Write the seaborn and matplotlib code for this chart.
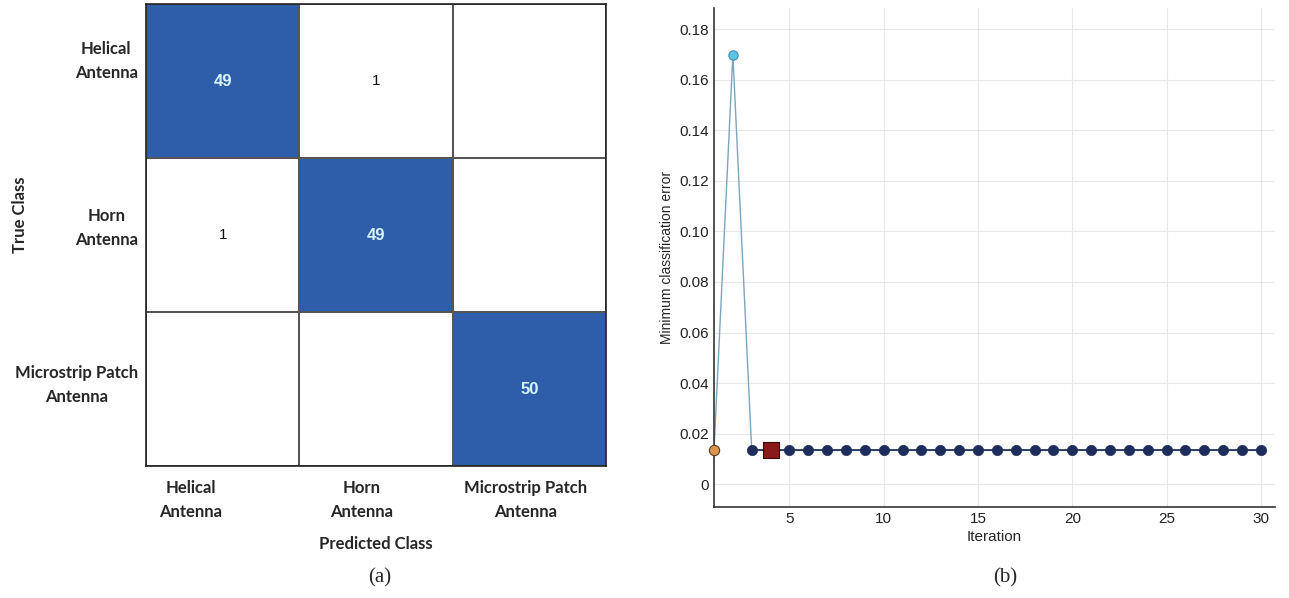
import matplotlib
matplotlib.use("Agg")
import matplotlib.pyplot as plt
import matplotlib.transforms as mtransforms
import numpy as np
import pandas as pd
import seaborn as sns
from matplotlib.colors import LinearSegmentedColormap

# confusion matrix data
classes = ["Helical\nAntenna", "Horn\nAntenna", "Microstrip Patch\nAntenna"]
counts = [
    [49, 1, 0],
    [1, 49, 0],
    [0, 0, 50],
]

# optimisation trace
iterations = list(range(1, 31))
min_error = [0.0133, 0.17] + [0.0133] * 28
best_iter = 4

sns.set_theme(style="white")
plt.rcParams["font.family"] = ["Lato", "DejaVu Sans"]

fig = plt.figure(figsize=(12.89, 5.98), dpi=100)
W, H = 1289, 598
ax_a = fig.add_axes([146 / W, (H - 466) / H, 460 / W, 462 / H])
ax_b = fig.add_axes([714 / W, (H - 507) / H, 561 / W, 499 / H])


def shift(lab, dx, dy):
    lab.set_transform(lab.get_transform() +
                      mtransforms.ScaledTranslation(dx / 100, dy / 100, fig.dpi_scale_trans))


# ---- (a) confusion matrix
cm = pd.DataFrame(counts, index=classes, columns=classes)
labels = cm.map(lambda v: "" if v == 0 else str(v))
cmap = LinearSegmentedColormap.from_list("wb", ["#ffffff", "#2e5ea9"])
sns.heatmap(cm, ax=ax_a, cmap=cmap, vmin=1, vmax=49, cbar=False,
            annot=labels, fmt="", linewidths=1.2, linecolor="#555555",
            annot_kws={"fontsize": 11, "fontfamily": "Liberation Sans"})
for t in ax_a.texts:
    if t.get_text() in ("49", "50"):
        t.set_color("#d6f4ff")
        t.set_fontweight("bold")
        t.set_fontsize(12)
    else:
        t.set_color("#111111")
for s in ax_a.spines.values():
    s.set_visible(True)
    s.set_color("#222222")
    s.set_linewidth(1.2)
ax_a.tick_params(length=0)
ax_a.set_xticklabels(classes, rotation=0, fontsize=12, fontweight="bold",
                     ha="center", va="top", linespacing=1.6)
ax_a.set_yticklabels(classes, rotation=0, fontsize=12, fontweight="bold",
                     ha="right", va="center", linespacing=1.6,
                     multialignment="center")
ax_a.tick_params(axis="y", pad=6)
ax_a.tick_params(axis="x", pad=10)
# class labels sit a little off the cell centres in the original
for lab, dx in zip(ax_a.get_xticklabels(), [-32, -14, -4]):
    shift(lab, dx, 0)
for lab, dy in zip(ax_a.get_yticklabels(), [20, 7, 4]):
    shift(lab, 0, dy)
ax_a.set_xlabel("Predicted Class", fontsize=12, fontweight="bold", labelpad=12)
ax_a.set_ylabel("")
fig.text(20 / W, 1 - 215 / H, "True Class", rotation=90, ha="center",
         va="center", fontsize=12, fontweight="bold")

# ---- (b) minimum classification error
trace = pd.DataFrame({"iteration": iterations, "error": min_error})
sns.lineplot(data=trace, x="iteration", y="error", ax=ax_b,
             color="#7aa6bf", linewidth=1.0)
sns.lineplot(data=trace[trace["iteration"] >= 3], x="iteration", y="error",
             ax=ax_b, color="#1b2a4e", linewidth=1.2)
sns.scatterplot(data=trace[trace["iteration"] >= 3], x="iteration", y="error",
                ax=ax_b, color="#1f2d5c", s=55, edgecolor="#1f2d5c",
                linewidth=0.5, zorder=3)
sns.scatterplot(data=trace[trace["iteration"] == 1], x="iteration", y="error",
                ax=ax_b, color="#d9944a", s=55, edgecolor="#5a3a20",
                linewidth=0.8, zorder=4)
sns.scatterplot(data=trace[trace["iteration"] == 2], x="iteration", y="error",
                ax=ax_b, color="#5ec4e6", s=45, edgecolor="#3a8fb0",
                linewidth=0.8, zorder=4)
sns.scatterplot(data=trace[trace["iteration"] == best_iter], x="iteration",
                y="error", ax=ax_b, color="#8a1a1a", marker="s", s=120,
                edgecolor="#3a0a0a", linewidth=0.8, zorder=5)
for coll in ax_b.collections:
    coll.set_clip_on(False)

ax_b.set_xlim(1, 30.75)
ax_b.set_ylim(-0.0091, 0.1885)
ax_b.set_xticks([5, 10, 15, 20, 25, 30])
ax_b.set_yticks(np.arange(0, 0.181, 0.02))
ax_b.set_yticklabels(["0"] + [f"{v:.2f}" for v in np.arange(0.02, 0.181, 0.02)])
ax_b.grid(True, color="#e8e8e8", linewidth=0.8)
ax_b.tick_params(direction="in", length=4, labelsize=11, colors="#222222")
for lab in ax_b.get_xticklabels() + ax_b.get_yticklabels():
    lab.set_fontfamily("Liberation Sans")
for side in ("top", "right"):
    ax_b.spines[side].set_visible(False)
for side in ("left", "bottom"):
    ax_b.spines[side].set_color("#333333")
    ax_b.spines[side].set_linewidth(1.2)
ax_b.set_xlabel("Iteration", fontsize=11, fontfamily="Liberation Sans", labelpad=3)
ax_b.set_ylabel("Minimum classification error", fontsize=10,
                fontfamily="Liberation Sans", labelpad=4)

# panel captions
fig.text(380 / W, 1 - 578 / H, "(a)", ha="center", va="center",
         fontsize=15, fontfamily="Liberation Serif")
fig.text(1005 / W, 1 - 578 / H, "(b)", ha="center", va="center",
         fontsize=15, fontfamily="Liberation Serif")

fig.savefig("out.png", dpi=100)
